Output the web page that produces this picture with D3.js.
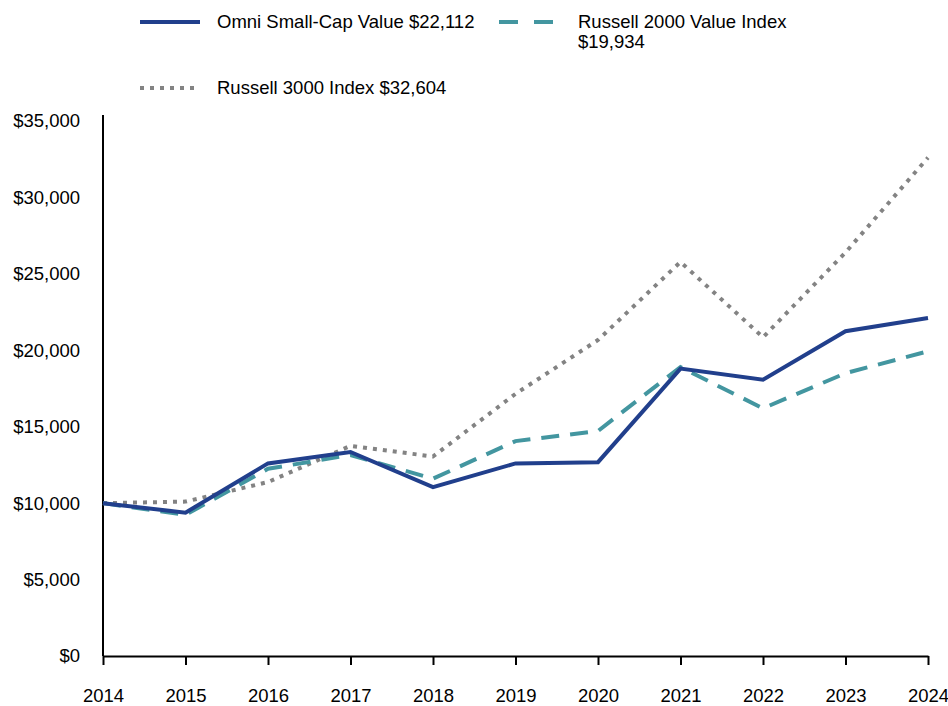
<!DOCTYPE html>
<html>
<head>
<meta charset="utf-8">
<script src="https://cdn.jsdelivr.net/npm/d3@7"></script>
<style>
  body { margin: 0; background: #fff; }
  svg text { font-family: "Liberation Sans", Arial, sans-serif; fill: #000; }
</style>
</head>
<body>
<div id="chart"></div>
<script>
// data -------------------------------------------------------------------------
const years = [2014, 2015, 2016, 2017, 2018, 2019, 2020, 2021, 2022, 2023, 2024];
const omniValues = [10000, 9380, 12600, 13350, 11050, 12600, 12680, 18800, 18080, 21250, 22112];
const r2000vValues = [10000, 9230, 12250, 13150, 11600, 14060, 14720, 18900, 16200, 18500, 19934];
const r3000Values = [10000, 10100, 11380, 13750, 13050, 17150, 20670, 25780, 20850, 26400, 32604];
const yTicks = [0, 5000, 10000, 15000, 20000, 25000, 30000, 35000];
const seriesNames = ['Omni Small-Cap Value $22,112', 'Russell 2000 Value Index', 'Russell 3000 Index $32,604'];
const seriesSub = ['', '$19,934', ''];

// size ---------------------------------------------------------------------------
const width = 948;
const height = 706;
const plotLeft = 103, plotRight = 928, plotTop = 121, plotBottom = 656;
const fontSize = '18.5px';

const svg = d3.select('#chart').append('svg')
  .attr('width', width)
  .attr('height', height);

const x = d3.scaleLinear().domain([2014, 2024]).range([plotLeft, plotRight]);
const y = d3.scaleLinear().domain([0, 35000]).range([plotBottom, plotTop]);

const series = [
  {name: seriesNames[0], sub: seriesSub[0], values: omniValues, color: '#213f8c', dash: null},
  {name: seriesNames[1], sub: seriesSub[1], values: r2000vValues, color: '#4396a0', dash: '18,11'},
  {name: seriesNames[2], sub: seriesSub[2], values: r3000Values, color: '#838383', dash: '4,6'}
];

// axes ---------------------------------------------------------------------------
const yAxis = svg.append('g')
  .attr('transform', 'translate(' + plotLeft + ',0)')
  .call(d3.axisLeft(y).tickValues(yTicks).tickSize(0).tickPadding(23)
    .tickFormat(d => '$' + d3.format(',')(d)));
yAxis.select('.domain').attr('d', 'M0,' + (plotTop - 6) + 'V' + plotBottom)
  .attr('stroke', '#000').attr('stroke-width', 2);
yAxis.selectAll('text').attr('font-size', fontSize);

const xAxis = svg.append('g')
  .attr('transform', 'translate(0,' + plotBottom + ')')
  .call(d3.axisBottom(x).tickValues(years).tickSize(9).tickSizeOuter(0).tickPadding(24)
    .tickFormat(d3.format('d')));
xAxis.select('.domain').attr('stroke', '#000').attr('stroke-width', 2);
xAxis.selectAll('.tick line').attr('stroke', '#000').attr('stroke-width', 2);
xAxis.selectAll('text').attr('font-size', fontSize);

// lines --------------------------------------------------------------------------
const line = d3.line()
  .x((d, i) => x(years[i]))
  .y(d => y(d));

// back to front: dotted, dashed, solid
[2, 1, 0].forEach(k => {
  const s = series[k];
  svg.append('path')
    .datum(s.values)
    .attr('d', line)
    .attr('fill', 'none')
    .attr('stroke', s.color)
    .attr('stroke-width', 4)
    .attr('stroke-dasharray', s.dash)
    .attr('stroke-linejoin', 'miter');
});

// legend -------------------------------------------------------------------------
const legendPos = [
  {lx: 140, ly: 22, tx: 217},
  {lx: 499, ly: 22, tx: 578},
  {lx: 140, ly: 88, tx: 217}
];
series.forEach((s, i) => {
  const p = legendPos[i];
  const g = svg.append('g');
  g.append('line')
    .attr('x1', p.lx).attr('x2', p.lx + 60)
    .attr('y1', p.ly).attr('y2', p.ly)
    .attr('stroke', s.color)
    .attr('stroke-width', 4)
    .attr('stroke-dasharray', i === 1 ? '19,16' : s.dash);
  g.append('text')
    .attr('x', p.tx)
    .attr('y', p.ly + 6)
    .attr('font-size', fontSize)
    .text(s.name);
  if (s.sub) {
    g.append('text')
      .attr('x', p.tx)
      .attr('y', p.ly + 26)
      .attr('font-size', fontSize)
      .text(s.sub);
  }
});
</script>
</body>
</html>
